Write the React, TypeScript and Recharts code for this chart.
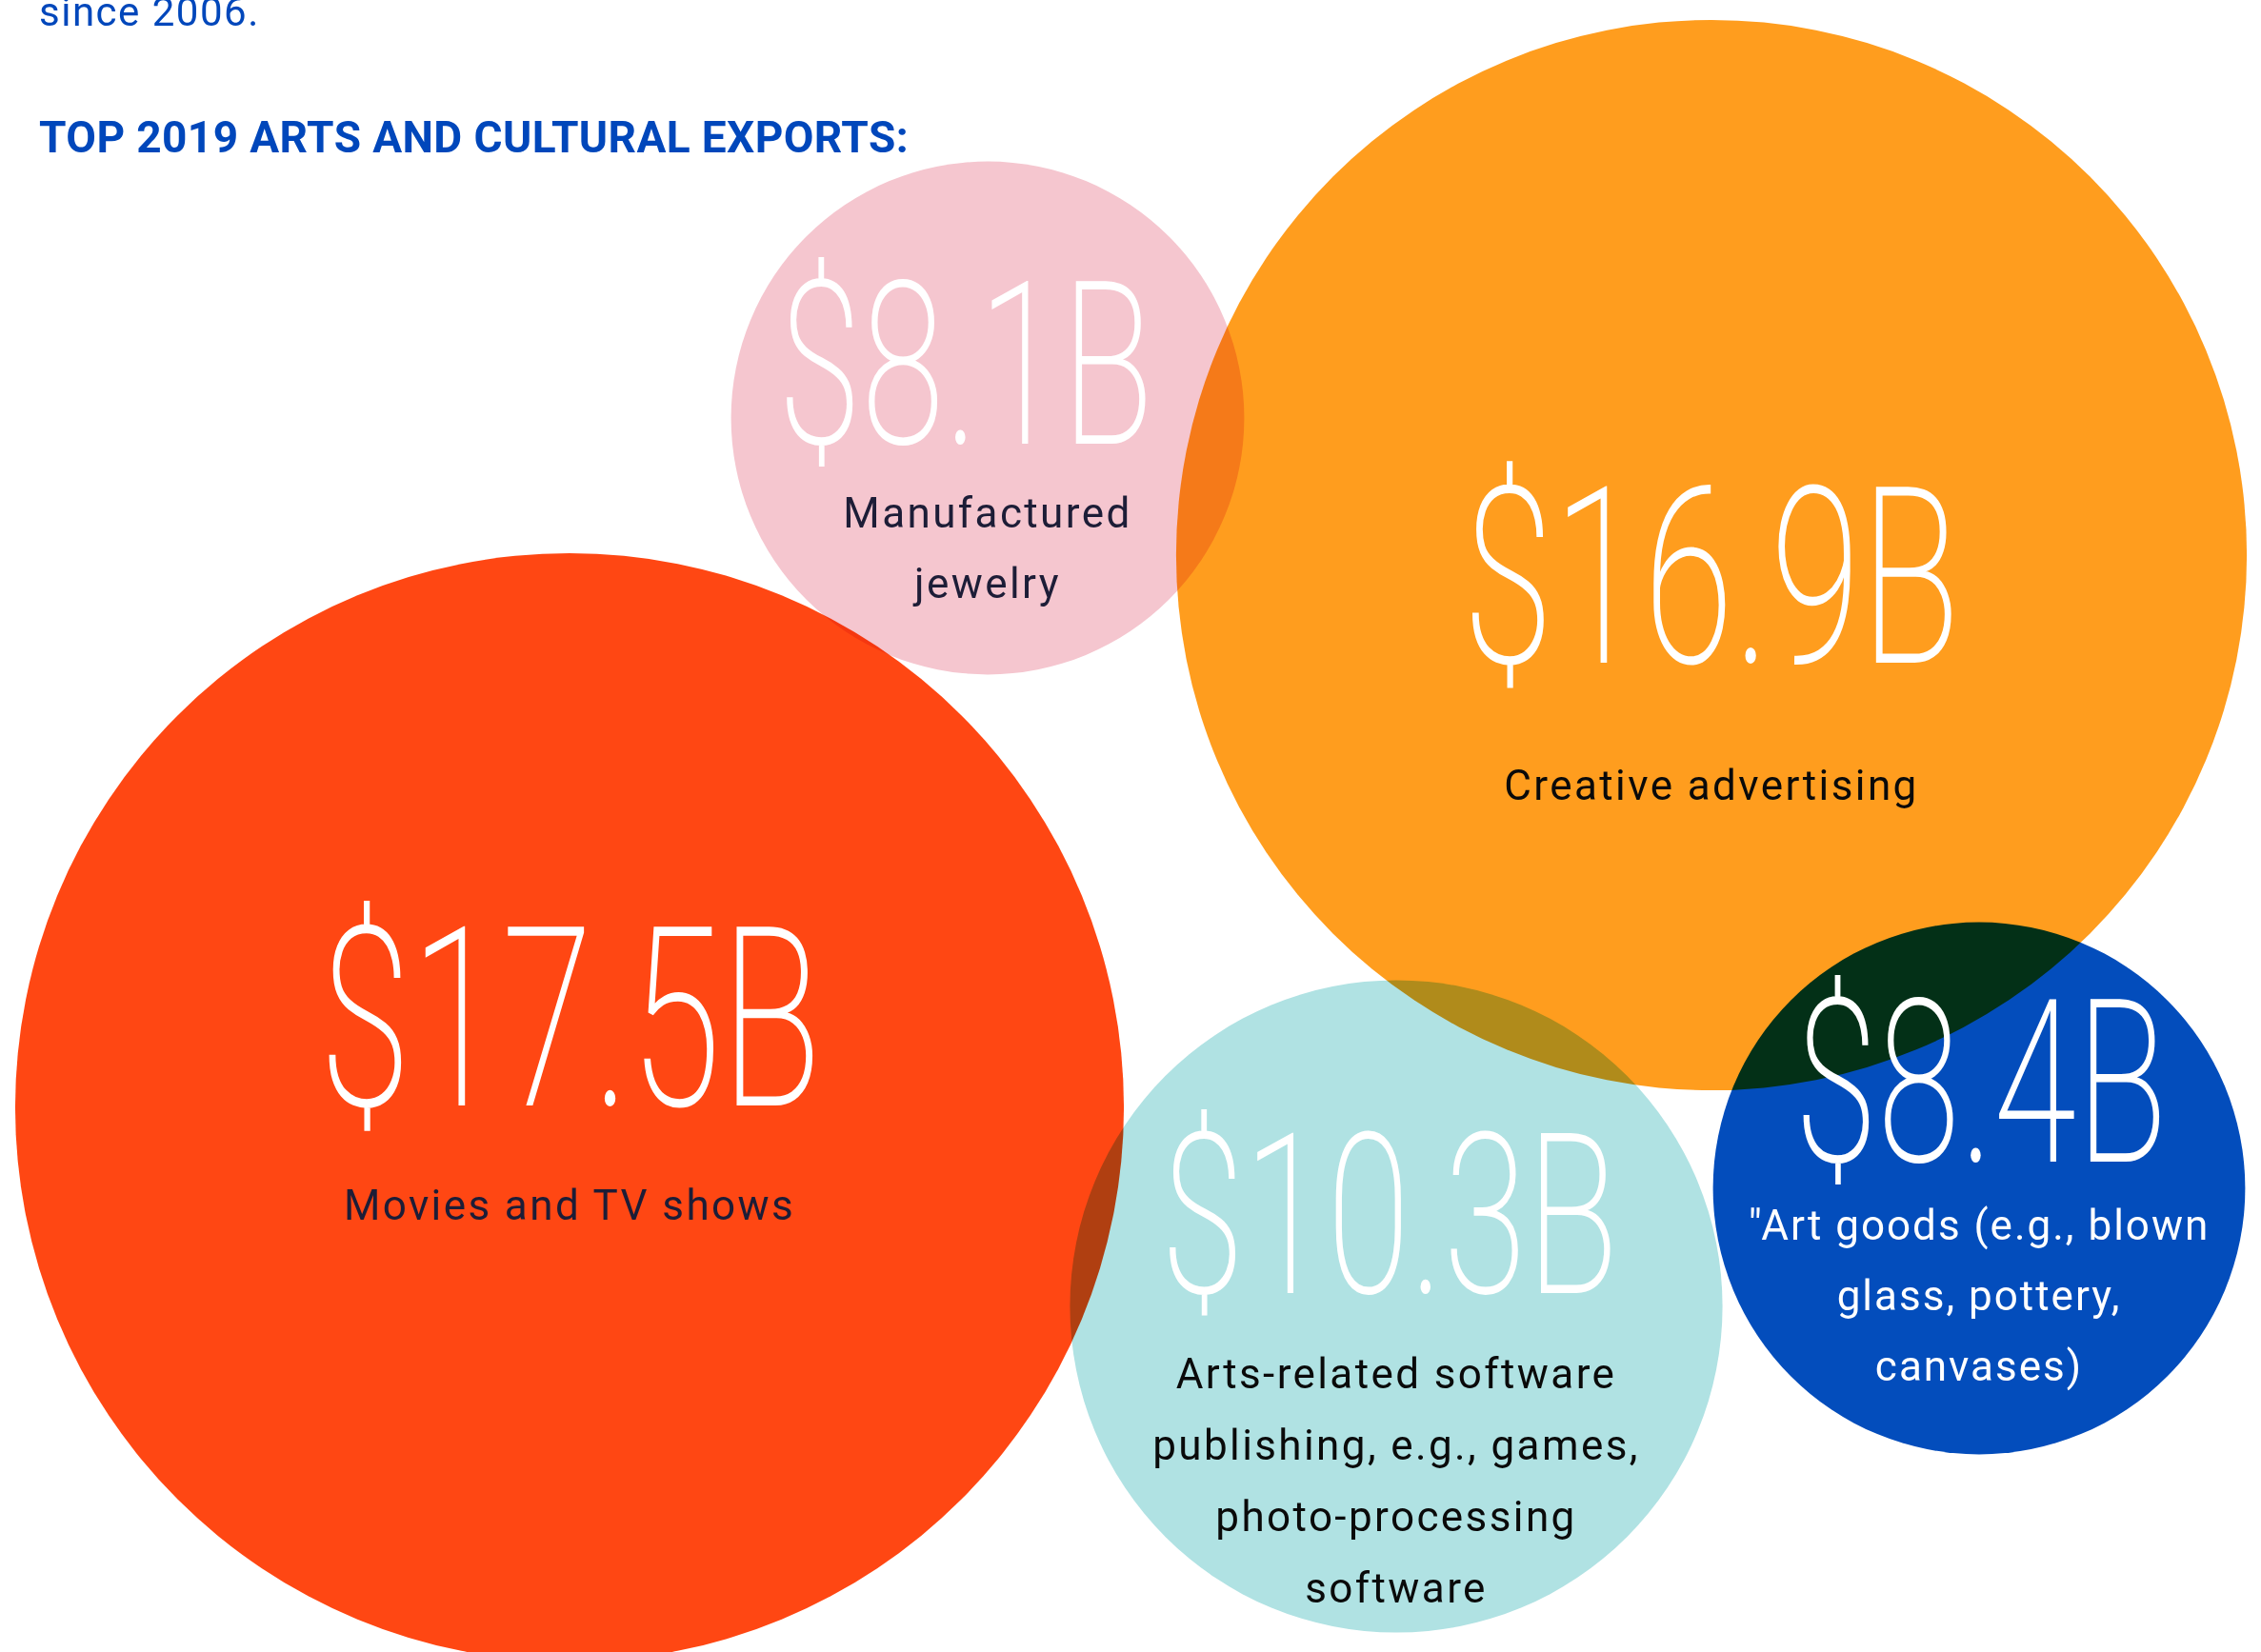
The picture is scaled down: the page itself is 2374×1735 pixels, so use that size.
import React from "react";
import { ScatterChart, Scatter, XAxis, YAxis } from "recharts";

// ---- data ----
const categories: string[][] = [
  ["Movies and TV shows"],
  ["Creative advertising"],
  ["Manufactured", "jewelry"],
  ["Arts-related software", "publishing, e.g., games,", "photo-processing", "software"],
  ['"Art goods (e.g., blown', "glass, pottery,", "canvases)"],
];
const values: number[] = [17.5, 16.9, 8.1, 10.3, 8.4];
const valueLabels: string[] = ["$17.5B", "$16.9B", "$8.1B", "$10.3B", "$8.4B"];

// ---- layout (bubble centres in page units) ----
const bubbleX: number[] = [598, 1797, 1037, 1466, 2078];
const bubbleY: number[] = [1163, 583, 439, 1372, 1248];

// ---- styles ----
const W = 2374;
const H = 1735;
const PX_PER_BILLION = 33.26; // bubble radius proportional to value
const fills = ["#ff4713", "#ff9d1e", "#f5c6cf", "#b0e2e3", "#034dbc"];
const labelColors = ["#1d1d37", "#0a0a0a", "#1d1d37", "#0a0a0a", "#ffffff"];
const numberSizes = [264, 260, 240, 235, 239];
const numberWidths = [527, 522, 394, 480, 391];
const numberDx = [1, 0, -23, -7, 2];
const numberDy = [-2, 113, 27, -14, -28];
const labelDy = [118, 257, 115, 86, 54];
const lineHeights = [74, 74, 74, 75, 74];
const labelSpacing = [2.4, 2.4, 2.4, 2.4, 2.0];

const data = values.map((v, i) => ({
  x: bubbleX[i],
  y: bubbleY[i],
  value: v,
  valueLabel: valueLabels[i],
  lines: categories[i],
  idx: i,
}));

const BubbleShape = (props: any) => {
  const { cx, cy, payload } = props;
  const r = payload.value * PX_PER_BILLION;
  return (
    <circle
      cx={cx}
      cy={cy}
      r={r}
      fill={fills[payload.idx]}
      style={{ mixBlendMode: "multiply" }}
    />
  );
};

const LabelShape = (props: any) => {
  const { cx, cy, payload } = props;
  const i = payload.idx;
  return (
    <g>
      <text
        x={cx + numberDx[i]}
        y={cy + numberDy[i]}
        textAnchor="middle"
        fill="#ffffff"
        fontFamily="Roboto, 'DejaVu Sans', sans-serif"
        fontWeight={200}
        fontSize={numberSizes[i]}
        textLength={numberWidths[i]}
        lengthAdjust="spacingAndGlyphs"
      >
        {payload.valueLabel}
      </text>
      {payload.lines.map((line: string, k: number) => (
        <text
          key={k}
          x={cx}
          y={cy + labelDy[i] + k * lineHeights[i]}
          textAnchor="middle"
          fill={labelColors[i]}
          fontFamily="Roboto, 'DejaVu Sans', sans-serif"
          fontWeight={400}
          fontSize={44}
          letterSpacing={labelSpacing[i]}
        >
          {line}
        </text>
      ))}
    </g>
  );
};

export default function App() {
  return (
    <div style={{ position: "absolute", left: 0, top: 0, width: W, height: H, overflow: "hidden", background: "#ffffff" }}>
      <ScatterChart width={W} height={H} margin={{ top: 0, right: 0, bottom: 0, left: 0 }}>
        <XAxis type="number" dataKey="x" domain={[0, W]} allowDataOverflow hide />
        <YAxis type="number" dataKey="y" domain={[0, H]} allowDataOverflow reversed hide />
        <Scatter data={data} shape={BubbleShape} isAnimationActive={false} />
        <Scatter data={data} shape={LabelShape} isAnimationActive={false} />
      </ScatterChart>
      <svg width={W} height={200} style={{ position: "absolute", left: 0, top: 0, pointerEvents: "none" }}>
        <text x={41} y={27} fill="#0047bb" fontFamily="Roboto, sans-serif" fontWeight={400} fontSize={42} letterSpacing={1.5}>
          since 2006.
        </text>
        <text x={41} y={160} fill="#0047bb" fontFamily="Roboto, sans-serif" fontWeight={700} fontSize={46} letterSpacing={0.4}>
          TOP 2019 ARTS AND CULTURAL EXPORTS:
        </text>
      </svg>
    </div>
  );
}
